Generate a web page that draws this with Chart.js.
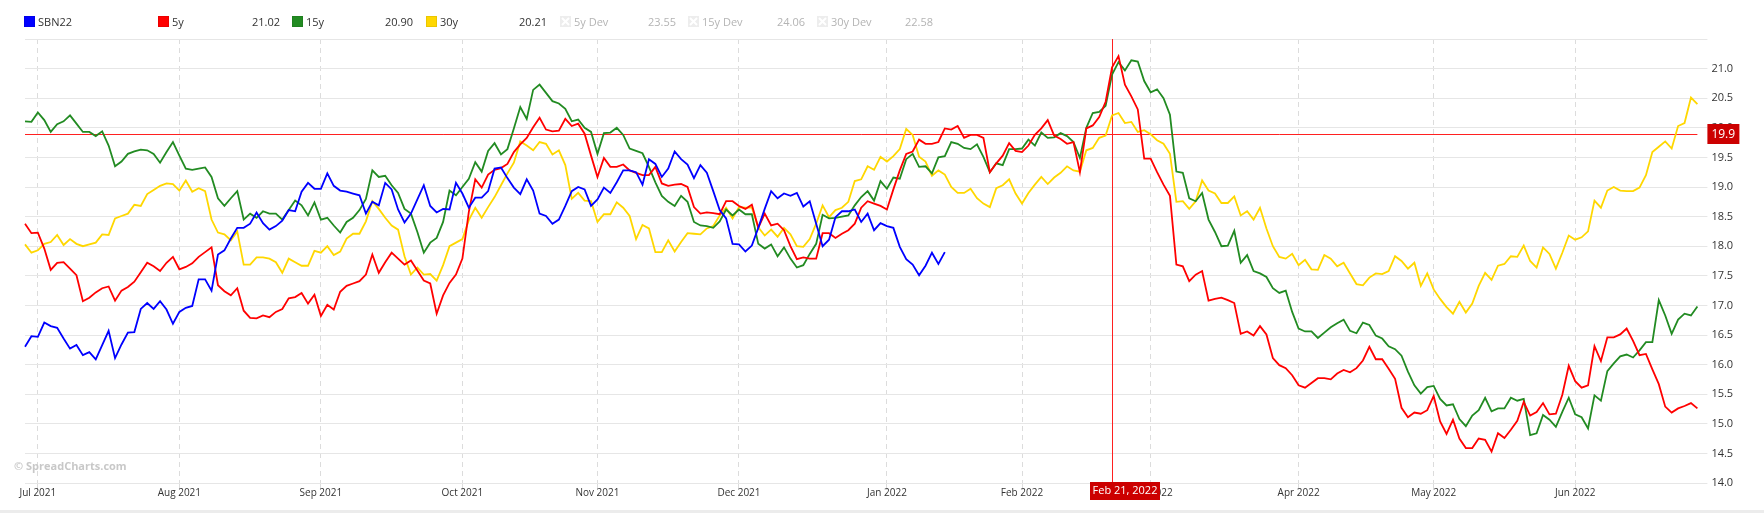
<!DOCTYPE html>
<html>
<head>
<meta charset="utf-8">
<script src="https://cdn.jsdelivr.net/npm/chart.js@4.4.1/dist/chart.umd.min.js"></script>
<style>
  body { margin: 0; background: #fff; font-family: 'Open Sans', sans-serif; }
  #wrap { position: relative; width: 1764px; height: 510px; }
  #foot { width: 1764px; height: 3px; background: #ececec; }
  .lg { position: absolute; top: 14px; font-size: 11px; color: #333; line-height: 15px; white-space: nowrap; }
  .box { position: absolute; top: 16px; width: 11px; height: 11px; }
  .val { text-align: right; width: 50px; }
  .off { color: #b4b4b4; }
  #mark { position: absolute; left: 14px; top: 458px; font-size: 11px; font-weight: bold; color: #c8c8c8; }
</style>
</head>
<body>
<div id="wrap">
  <canvas id="grafico" width="1764" height="510"></canvas>
  <div id="legenda"></div>
  <div id="mark">© SpreadCharts.com</div>
</div>
<div id="foot"></div>
<script>
// dados (valores diários, dias úteis de 29/06/2021 a 28/06/2022)
const seriesNames = ['SBN22', '5y', '15y', '30y'];
const seriesColors = ['#0000ff', '#ff0000', '#228b22', '#ffd700'];
const legendValues = ['', '21.02', '20.90', '20.21'];
const devNames = ['5y Dev', '15y Dev', '30y Dev'];
const devValues = ['23.55', '24.06', '22.58'];
const monthNames = ['Jan', 'Feb', 'Mar', 'Apr', 'May', 'Jun', 'Jul', 'Aug', 'Sep', 'Oct', 'Nov', 'Dec'];
const yTicks = { min: 14, max: 21.5, step: 0.5 };
const crossDate = '2022-02-21';
const crossLabel = 'Feb 21, 2022';
const crossValue = 19.9;

const sbn22 = [
  16.30, 16.48, 16.47, 16.71, 16.65, 16.62, 16.44, 16.27, 16.33, 16.16,
  16.21, 16.09, 16.33, 16.57, 16.11, 16.34, 16.54, 16.55, 16.94, 17.04,
  16.94, 17.07, 16.93, 16.69, 16.89, 16.96, 16.99, 17.44, 17.44, 17.25,
  17.86, 17.93, 18.13, 18.31, 18.31, 18.38, 18.57, 18.39, 18.28, 18.34,
  18.43, 18.61, 18.59, 18.92, 19.07, 18.97, 18.97, 19.23, 19.02, 18.94,
  18.92, 18.89, 18.86, 18.55, 18.75, 18.69, 19.07, 18.96, 18.62, 18.40,
  18.55, 18.79, 19.03, 18.68, 18.57, 18.63, 18.62, 19.07, 18.89, 18.65,
  18.82, 18.82, 18.93, 19.31, 19.33, 19.15, 18.99, 18.88, 19.13, 18.94,
  18.55, 18.51, 18.38, 18.45, 18.68, 18.93, 19.00, 18.96, 18.68, 18.79,
  18.99, 18.90, 19.08, 19.28, 19.28, 19.25, 19.04, 19.47, 19.39, 19.17,
  19.31, 19.60, 19.47, 19.38, 19.15, 19.37, 19.24, 18.93, 18.61, 18.47,
  18.04, 18.03, 17.91, 18.01, 18.31, 18.63, 18.93, 18.81, 18.89, 18.85,
  18.90, 18.67, 18.76, 18.38, 18.00, 18.11, 18.49, 18.59, 18.59, 18.62,
  18.41, 18.55, 18.27, 18.39, 18.34, 18.31, 17.99, 17.78, 17.69, 17.51,
  17.67, 17.89, 17.70, 17.90
];

const y5 = [
  18.38, 18.22, 18.23, 17.96, 17.60, 17.72, 17.73, 17.62, 17.51, 17.07,
  17.13, 17.22, 17.29, 17.32, 17.08, 17.25, 17.31, 17.40, 17.56, 17.72,
  17.66, 17.58, 17.72, 17.82, 17.61, 17.65, 17.71, 17.82, 17.90, 17.98,
  17.34, 17.24, 17.17, 17.29, 16.91, 16.79, 16.78, 16.83, 16.80, 16.89,
  16.94, 17.12, 17.14, 17.21, 17.03, 17.18, 16.82, 17.01, 16.93, 17.23,
  17.33, 17.37, 17.41, 17.52, 17.86, 17.55, 17.73, 17.89, 17.79, 17.69,
  17.76, 17.59, 17.42, 17.37, 16.86, 17.17, 17.38, 17.52, 17.79, 18.58,
  19.13, 18.99, 19.21, 19.29, 19.32, 19.39, 19.59, 19.72, 19.83, 20.01,
  20.17, 19.97, 19.94, 19.95, 20.15, 20.03, 20.07, 19.90, 19.53, 19.17,
  19.49, 19.34, 19.34, 19.38, 19.28, 19.24, 19.20, 19.20, 19.34, 19.06,
  19.02, 19.04, 19.05, 19.00, 18.66, 18.55, 18.57, 18.56, 18.54, 18.76,
  18.76, 18.68, 18.63, 18.70, 18.31, 18.55, 18.35, 18.38, 18.27, 18.00,
  17.78, 17.81, 17.79, 17.79, 18.22, 18.22, 18.14, 18.21, 18.27, 18.38,
  18.65, 18.76, 18.72, 18.68, 18.62, 18.96, 19.28, 19.56, 19.60, 19.80,
  19.73, 19.73, 19.76, 19.99, 19.97, 20.03, 19.83, 19.88, 19.88, 19.83,
  19.25, 19.40, 19.53, 19.74, 19.61, 19.59, 19.70, 19.88, 19.99, 20.13,
  19.87, 19.81, 19.73, 19.76, 19.25, 19.99, 20.04, 20.18, 20.44, 21.02,
  21.21, 20.73, 20.53, 20.31, 19.48, 19.48, 19.25, 19.04, 18.85, 17.69,
  17.66, 17.41, 17.52, 17.58, 17.08, 17.11, 17.13, 17.09, 17.04, 16.52,
  16.56, 16.49, 16.65, 16.51, 16.11, 15.99, 15.94, 15.82, 15.65, 15.61,
  15.69, 15.77, 15.77, 15.75, 15.85, 15.91, 15.87, 15.94, 16.07, 16.30,
  16.09, 16.09, 15.93, 15.76, 15.27, 15.11, 15.19, 15.17, 15.23, 15.47,
  15.04, 14.83, 15.07, 14.75, 14.59, 14.59, 14.75, 14.73, 14.53, 14.84,
  14.76, 14.90, 15.05, 15.37, 15.14, 15.20, 15.35, 15.16, 15.17, 15.49,
  15.98, 15.72, 15.61, 15.65, 16.31, 16.06, 16.46, 16.46, 16.51, 16.61,
  16.40, 16.16, 16.18, 15.92, 15.67, 15.29, 15.19, 15.26, 15.30, 15.35, 15.26
];

const y15 = [
  20.11, 20.10, 20.26, 20.13, 19.93, 20.06, 20.11, 20.21, 20.07, 19.93,
  19.93, 19.86, 19.94, 19.70, 19.35, 19.43, 19.56, 19.60, 19.63, 19.62,
  19.56, 19.41, 19.59, 19.76, 19.53, 19.31, 19.29, 19.31, 19.33, 19.17,
  18.81, 18.68, 18.81, 18.93, 18.45, 18.55, 18.48, 18.59, 18.55, 18.55,
  18.45, 18.61, 18.77, 18.69, 18.52, 18.74, 18.45, 18.48, 18.35, 18.23,
  18.41, 18.48, 18.61, 18.80, 19.28, 19.17, 19.19, 19.03, 18.90, 18.63,
  18.55, 18.24, 17.89, 18.06, 18.14, 18.41, 18.94, 18.86, 19.00, 19.14,
  19.42, 19.26, 19.61, 19.74, 19.55, 19.64, 19.99, 20.35, 20.15, 20.64,
  20.73, 20.59, 20.45, 20.41, 20.32, 20.11, 20.14, 20.00, 19.93, 19.56,
  19.91, 19.92, 20.00, 19.88, 19.65, 19.61, 19.57, 19.34, 19.08, 18.85,
  18.75, 18.68, 18.85, 18.75, 18.41, 18.35, 18.34, 18.31, 18.42, 18.62,
  18.52, 18.62, 18.54, 18.54, 18.04, 17.96, 18.03, 17.83, 17.98, 17.79,
  17.64, 17.68, 17.87, 18.04, 18.53, 18.47, 18.48, 18.50, 18.52, 18.69,
  18.83, 18.93, 18.77, 19.10, 18.97, 19.16, 19.14, 19.47, 19.56, 19.34,
  19.35, 19.23, 19.50, 19.52, 19.76, 19.73, 19.66, 19.64, 19.72, 19.51,
  19.25, 19.40, 19.37, 19.64, 19.64, 19.65, 19.80, 19.70, 19.92, 19.83,
  19.84, 19.91, 19.86, 19.76, 19.49, 20.00, 20.25, 20.27, 20.37, 20.90,
  21.11, 20.97, 21.14, 21.12, 20.79, 20.60, 20.65, 20.50, 20.22, 19.26,
  19.24, 18.81, 18.76, 18.90, 18.45, 18.24, 18.00, 18.01, 18.26, 17.72,
  17.85, 17.58, 17.54, 17.48, 17.29, 17.21, 17.25, 16.89, 16.61, 16.56,
  16.56, 16.45, 16.54, 16.63, 16.70, 16.76, 16.57, 16.53, 16.71, 16.67,
  16.49, 16.44, 16.31, 16.26, 16.15, 15.88, 15.65, 15.51, 15.62, 15.64,
  15.42, 15.31, 15.33, 15.08, 14.96, 15.14, 15.23, 15.44, 15.21, 15.26,
  15.26, 15.44, 15.39, 15.42, 14.81, 14.84, 15.15, 15.07, 14.95, 15.20,
  15.44, 15.16, 15.11, 14.92, 15.48, 15.39, 15.89, 16.02, 16.14, 16.17,
  16.12, 16.24, 16.38, 16.38, 17.09, 16.83, 16.52, 16.76, 16.86, 16.83, 16.98
];

const y30 = [
  18.03, 17.89, 17.93, 18.04, 18.07, 18.19, 18.02, 18.12, 18.04, 18.00,
  18.03, 18.06, 18.20, 18.19, 18.47, 18.51, 18.55, 18.70, 18.68, 18.88,
  18.95, 19.02, 19.06, 19.05, 18.94, 19.11, 18.92, 18.98, 18.93, 18.45,
  18.23, 18.20, 18.10, 18.25, 17.69, 17.69, 17.81, 17.81, 17.79, 17.73,
  17.55, 17.79, 17.73, 17.67, 17.67, 17.92, 17.89, 18.00, 17.85, 17.91,
  18.13, 18.21, 18.21, 18.42, 18.76, 18.63, 18.48, 18.35, 18.28, 17.83,
  17.52, 17.64, 17.52, 17.53, 17.42, 17.68, 18.00, 18.06, 18.12, 18.44,
  18.65, 18.48, 18.66, 18.83, 19.03, 19.23, 19.41, 19.77, 19.70, 19.62,
  19.76, 19.73, 19.55, 19.62, 19.37, 18.80, 18.90, 18.77, 18.76, 18.41,
  18.54, 18.54, 18.74, 18.65, 18.51, 18.12, 18.36, 18.30, 17.90, 17.90,
  18.10, 17.91, 18.07, 18.22, 18.21, 18.20, 18.30, 18.34, 18.52, 18.65,
  18.47, 18.66, 18.65, 18.65, 18.32, 18.18, 18.28, 18.16, 18.31, 18.20,
  18.00, 17.99, 18.12, 18.38, 18.69, 18.49, 18.61, 18.65, 18.75, 19.10,
  19.13, 19.35, 19.29, 19.51, 19.43, 19.52, 19.64, 19.98, 19.88, 19.51,
  19.43, 19.19, 19.28, 19.21, 19.00, 18.90, 18.90, 18.97, 18.81, 18.72,
  18.66, 18.98, 19.03, 19.13, 18.89, 18.72, 18.90, 19.04, 19.17, 19.05,
  19.16, 19.24, 19.35, 19.28, 19.26, 19.62, 19.66, 19.83, 19.87, 20.21,
  20.25, 20.08, 20.10, 19.93, 19.96, 19.89, 19.79, 19.73, 19.56, 18.75,
  18.76, 18.63, 18.76, 19.11, 18.94, 18.89, 18.73, 18.73, 18.84, 18.52,
  18.59, 18.45, 18.65, 18.30, 18.00, 17.82, 17.79, 17.87, 17.68, 17.77,
  17.61, 17.60, 17.85, 17.79, 17.66, 17.72, 17.54, 17.36, 17.34, 17.47,
  17.54, 17.53, 17.58, 17.83, 17.75, 17.62, 17.72, 17.33, 17.54, 17.27,
  17.11, 16.97, 16.86, 17.06, 16.88, 17.03, 17.33, 17.55, 17.43, 17.67,
  17.70, 17.83, 17.82, 18.01, 17.75, 17.64, 17.98, 17.87, 17.62, 17.89,
  18.18, 18.11, 18.15, 18.25, 18.77, 18.65, 18.94, 19.00, 18.94, 18.93,
  18.93, 18.99, 19.20, 19.59, 19.68, 19.77, 19.65, 20.03, 20.08, 20.51, 20.40
];

// eixo x: dias úteis (segunda a sexta)
function diasUteis(inicio, fim) {
  const out = [];
  const d = new Date(inicio + 'T00:00:00Z');
  const end = new Date(fim + 'T00:00:00Z');
  while (d <= end) {
    const w = d.getUTCDay();
    if (w > 0 && w < 6) out.push(d.toISOString().slice(0, 10));
    d.setUTCDate(d.getUTCDate() + 1);
  }
  return out;
}
const dates = diasUteis('2021-06-29', '2022-06-28');

// legenda em HTML
const legenda = document.getElementById('legenda');
function add(html) { legenda.insertAdjacentHTML('beforeend', html); }
const boxX = [24, 158, 292, 426];
const valEnd = [0, 280, 413, 547];
seriesNames.forEach((n, i) => {
  add(`<div class="box" style="left:${boxX[i]}px;background:${seriesColors[i]};box-shadow:inset 0 0 0 1px rgba(0,0,0,0.08)"></div>`);
  add(`<div class="lg" style="left:${boxX[i] + 14}px">${n}</div>`);
  if (legendValues[i]) add(`<div class="lg val" style="left:${valEnd[i] - 50}px">${legendValues[i]}</div>`);
});
const devX = [560, 688, 817];
const devEnd = [676, 805, 933];
devNames.forEach((n, i) => {
  add(`<svg class="box" style="left:${devX[i]}px" viewBox="0 0 11 11"><rect width="11" height="11" fill="#ededed"/><path d="M2 2L9 9M9 2L2 9" stroke="#fff" stroke-width="2"/></svg>`);
  add(`<div class="lg off" style="left:${devX[i] + 14}px">${n}</div>`);
  add(`<div class="lg val off" style="left:${devEnd[i] - 50}px">${devValues[i]}</div>`);
});

// cruz vermelha (linha vertical + horizontal com rótulos)
const crosshair = {
  id: 'crosshair',
  beforeDatasetsDraw(chart) {
    const { ctx, chartArea: a, scales: { x, y } } = chart;
    const px = Math.round(x.getPixelForValue(dates.indexOf(crossDate))) + 0.5;
    const py = Math.round(y.getPixelForValue(crossValue)) + 0.5;
    ctx.save();
    ctx.strokeStyle = '#ff2020';
    ctx.lineWidth = 1;
    ctx.beginPath();
    ctx.moveTo(a.left, py); ctx.lineTo(a.right, py);
    ctx.moveTo(px, a.top); ctx.lineTo(px, a.bottom);
    ctx.stroke();
    ctx.restore();
  },
  afterDraw(chart) {
    const { ctx, chartArea: a, scales: { x, y } } = chart;
    const px = Math.round(x.getPixelForValue(dates.indexOf(crossDate)));
    const py = Math.round(y.getPixelForValue(crossValue));
    ctx.save();
    ctx.fillStyle = '#cc0000';
    ctx.fillRect(a.right + 10, py - 10, 32, 20);
    ctx.fillRect(px - 22, a.bottom - 1, 70, 18);
    ctx.fillStyle = '#ffffff';
    ctx.font = "12px 'Open Sans', sans-serif";
    ctx.textBaseline = 'middle';
    ctx.textAlign = 'left';
    ctx.fillText(crossValue.toFixed(1), a.right + 14, py + 1);
    ctx.font = "11px 'Open Sans', sans-serif";
    ctx.textAlign = 'center';
    ctx.fillText(crossLabel, px + 13, a.bottom + 8);
    ctx.restore();
  }
};

Chart.defaults.font.family = "'Open Sans', sans-serif";
Chart.defaults.color = '#333';

const linha = (label, data, color) => ({
  label, data,
  borderColor: color,
  backgroundColor: color,
  borderWidth: 1.8,
  pointRadius: 0,
  tension: 0,
  fill: false,
});

const grafico = new Chart(document.getElementById('grafico').getContext('2d'), {
  type: 'line',
  data: {
    labels: dates,
    datasets: [
      linha(seriesNames[0], sbn22, seriesColors[0]),
      linha(seriesNames[1], y5, seriesColors[1]),
      linha(seriesNames[2], y15, seriesColors[2]),
      linha(seriesNames[3], y30, seriesColors[3]),
    ]
  },
  options: {
    responsive: false,
    animation: false,
    devicePixelRatio: 1,
    layout: { padding: { left: 25, top: 39, right: 0, bottom: 0 } },
    plugins: { legend: { display: false }, tooltip: { enabled: false } },
    scales: {
      x: {
        type: 'category',
        afterFit(s) { s.height = 27; },
        border: { display: false, dash: [5, 4] },
        grid: { color: '#dcdcdc', tickLength: 7, drawOnChartArea: true },
        ticks: {
          autoSkip: false,
          maxRotation: 0,
          padding: -3,
          font: { size: 10 },
          color: '#333',
          callback(v, i) {
            if (i === 0 || dates[i - 1].slice(5, 7) === dates[i].slice(5, 7)) return null;
            return monthNames[+dates[i].slice(5, 7) - 1] + ' ' + dates[i].slice(0, 4);
          }
        }
      },
      y: {
        position: 'right',
        min: yTicks.min,
        max: yTicks.max,
        afterFit(s) { s.width = 66.6; },
        border: { display: false },
        grid: { color: '#e6e6e6', tickLength: 10 },
        ticks: {
          stepSize: yTicks.step,
          padding: 4,
          font: { size: 11 },
          color: '#333',
          callback: v => (v === yTicks.max ? '' : v.toFixed(1))
        }
      }
    }
  },
  plugins: [crosshair]
});
</script>
</body>
</html>
